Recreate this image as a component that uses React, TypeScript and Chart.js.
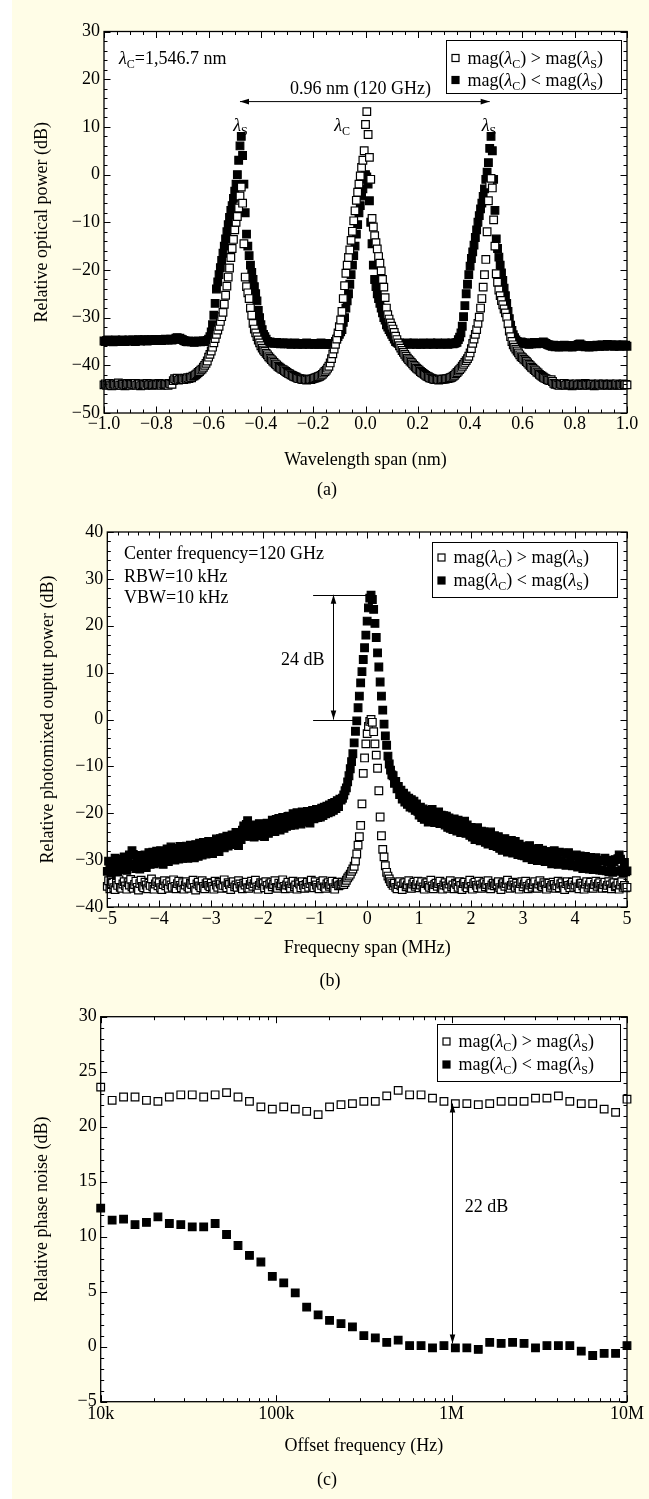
import React, { useEffect, useRef } from 'react';
import { Chart, registerables } from 'chart.js';

Chart.register(...registerables);

const FONT = "'Liberation Serif', 'Times New Roman', Times, serif";
const FS = 18;
const PAGE_BG = '#FFFDE7';

// ---------------- (a) optical spectrum ----------------
const A_WAVELENGTH_START_NM = -1.0;
const A_WAVELENGTH_STEP_NM = 0.005;
const A_OPEN_DB = [
  -44.1,-43.9,-44.2,-44.0,-43.8,-44.1,-44.3,-44.0,-43.9,-44.2,-44.0,-43.7,-44.1,-44.2,-43.9,-44.0,-44.3,-44.1,-43.8,-44.0,
  -44.2,-43.9,-44.0,-44.1,-43.8,-44.2,-44.0,-43.9,-44.3,-44.1,-43.9,-44.0,-44.2,-43.8,-44.1,-44.0,-43.9,-44.2,-44.1,-43.9,
  -44.0,-44.1,-43.8,-44.0,-44.2,-43.9,-44.1,-43.9,-44.0,-44.2,-43.8,-43.9,-44.0,-43.2,-42.8,-43.0,-42.7,-43.1,-42.9,-43.0,
  -42.8,-43.0,-42.7,-42.9,-42.6,-42.8,-42.5,-42.6,-42.3,-42.2,-42.0,-41.8,-41.5,-41.3,-41.0,-40.8,-40.4,-40.0,-39.6,-39.1,
  -38.3,-37.7,-37.0,-36.2,-35.3,-34.4,-33.5,-32.6,-31.8,-30.8,-29.8,-28.9,-27.2,-25.3,-23.4,-21.5,-19.6,-17.4,-15.5,-13.6,
  -11.6,-10.0,-8.8,-7.0,-4.5,-2.6,-6.0,-14.5,-21.5,-23.5,-24.8,-26.0,-28.0,-29.5,-31.2,-32.4,-33.2,-34.0,-34.7,-35.3,
  -35.9,-36.4,-36.8,-37.1,-37.5,-37.8,-38.2,-38.5,-38.8,-39.1,-39.4,-39.7,-39.9,-40.2,-40.4,-40.6,-40.8,-40.9,-41.1,-41.3,
  -41.5,-41.7,-41.8,-42.0,-42.1,-42.3,-42.4,-42.5,-42.7,-42.8,-42.8,-42.9,-43.0,-43.0,-42.9,-43.1,-43.0,-42.9,-43.0,-42.9,
  -42.8,-42.7,-42.6,-42.5,-42.4,-42.3,-42.1,-41.9,-41.6,-41.3,-41.0,-40.6,-40.2,-39.5,-38.6,-37.6,-36.6,-35.6,-34.5,-33.2,
  -31.9,-30.5,-28.7,-26.0,-23.3,-20.7,-19.0,-17.4,-15.8,-13.8,-11.9,-9.7,-7.6,-5.4,-3.7,-2.0,-0.3,1.5,3.0,5.0,
  10.5,13.2,8.4,3.6,-1.0,-9.2,-11.0,-12.8,-14.3,-15.6,-17.2,-18.6,-20.2,-22.0,-23.6,-25.8,-28.0,-29.4,-30.3,-31.1,
  -31.8,-32.4,-33.1,-33.9,-34.6,-35.3,-35.9,-36.4,-36.9,-37.3,-37.7,-38.1,-38.5,-38.8,-39.1,-39.4,-39.7,-40.0,-40.3,-40.6,
  -40.8,-41.0,-41.3,-41.5,-41.7,-41.9,-42.1,-42.3,-42.4,-42.6,-42.7,-42.8,-42.9,-43.0,-43.0,-42.9,-43.1,-43.0,-43.0,-42.9,
  -42.9,-42.9,-42.8,-42.8,-42.7,-42.6,-42.5,-42.3,-42.1,-41.8,-41.5,-41.2,-40.9,-40.6,-40.2,-39.8,-39.4,-39.0,-38.6,-38.1,
  -37.4,-36.5,-35.4,-34.5,-33.5,-32.5,-31.2,-29.9,-28.0,-26.0,-23.6,-21.0,-17.8,-12.0,-5.5,-2.2,-0.8,-2.8,-9.5,-15.0,
  -20.8,-22.6,-24.2,-25.4,-26.4,-27.3,-28.2,-29.0,-29.9,-31.3,-32.8,-34.0,-35.0,-35.7,-36.2,-36.6,-37.0,-37.4,-37.8,-38.2,
  -38.4,-38.7,-38.9,-39.2,-39.5,-39.8,-40.1,-40.4,-40.6,-40.9,-41.1,-41.4,-41.6,-41.9,-42.1,-42.3,-42.5,-42.7,-42.8,-43.0,
  -43.1,-43.2,-43.0,-43.4,-43.8,-44.0,-43.9,-44.1,-44.2,-43.9,-44.0,-44.1,-43.8,-44.2,-44.0,-44.1,-43.9,-44.0,-44.3,-44.1,
  -44.0,-43.9,-44.2,-44.1,-43.9,-44.0,-44.2,-44.1,-43.8,-44.0,-44.2,-44.0,-44.1,-43.9,-44.0,-44.3,-44.1,-44.0,-43.9,-44.1,
  -44.2,-44.0,-43.9,-44.1,-44.0,-44.2,-44.1,-43.9,-44.0,-44.2,-44.1,-44.0,-43.9,-44.2,-44.1,-44.0,-44.2,-43.9,-44.1,-44.0,
  -44.1,
];
const A_FILLED_DB = [
  -34.9,-35.0,-34.8,-34.7,-35.0,-34.9,-34.8,-35.1,-34.9,-34.7,-34.8,-35.0,-34.9,-34.8,-34.7,-34.9,-35.0,-34.8,-34.9,-34.7,
  -34.8,-34.9,-34.7,-34.8,-35.0,-34.8,-34.6,-34.8,-34.9,-34.7,-34.8,-34.6,-34.8,-34.9,-34.7,-34.8,-34.6,-34.7,-34.8,-34.6,
  -34.7,-34.8,-34.6,-34.7,-34.8,-34.6,-34.7,-34.5,-34.6,-34.7,-34.6,-34.5,-34.7,-34.6,-34.5,-34.3,-34.2,-34.4,-34.3,-34.5,
  -34.6,-34.8,-34.9,-35.0,-35.1,-34.9,-35.0,-35.1,-35.0,-35.2,-35.0,-35.1,-34.9,-35.0,-35.1,-35.0,-34.9,-35.0,-34.9,-34.8,
  -34.5,-34.0,-33.0,-31.5,-29.5,-27.0,-24.0,-22.5,-21.0,-19.5,-18.0,-16.5,-15.0,-13.5,-12.0,-10.5,-9.0,-7.5,-6.5,-5.0,
  -3.5,-2.0,0.0,3.0,6.0,8.0,4.0,-2.0,-8.0,-12.5,-15.0,-17.0,-19.0,-20.5,-22.0,-23.5,-25.0,-26.5,-28.5,-30.0,
  -31.5,-32.5,-33.5,-34.0,-34.5,-35.0,-35.2,-35.1,-35.3,-35.2,-35.4,-35.3,-35.2,-35.4,-35.3,-35.5,-35.4,-35.3,-35.5,-35.4,
  -35.3,-35.5,-35.4,-35.6,-35.4,-35.5,-35.3,-35.4,-35.6,-35.5,-35.4,-35.5,-35.6,-35.4,-35.5,-35.3,-35.5,-35.6,-35.4,-35.5,
  -35.4,-35.6,-35.5,-35.4,-35.6,-35.5,-35.3,-35.5,-35.6,-35.4,-35.5,-35.6,-35.5,-35.4,-35.6,-35.5,-35.5,-35.0,-34.5,-34.0,
  -33.5,-33.0,-32.5,-31.0,-30.0,-28.0,-26.5,-25.0,-23.0,-21.0,-19.0,-17.0,-15.0,-12.5,-10.5,-8.0,-6.5,-4.5,-3.0,-1.0,
  0.0,-0.5,-2.0,-5.5,-10.0,-14.5,-19.0,-22.0,-23.5,-25.0,-26.0,-27.0,-28.0,-29.0,-30.0,-30.5,-31.5,-32.0,-32.5,-33.0,
  -33.5,-34.0,-34.5,-35.0,-35.2,-35.4,-35.3,-35.5,-35.4,-35.6,-35.5,-35.4,-35.3,-35.5,-35.6,-35.4,-35.5,-35.3,-35.4,-35.6,
  -35.5,-35.4,-35.6,-35.5,-35.3,-35.5,-35.4,-35.6,-35.5,-35.4,-35.3,-35.5,-35.6,-35.4,-35.5,-35.3,-35.4,-35.6,-35.5,-35.4,
  -35.5,-35.3,-35.4,-35.6,-35.5,-35.4,-35.3,-35.5,-35.4,-35.3,-35.2,-34.6,-34.1,-33.2,-31.8,-29.8,-27.5,-25.0,-23.0,-21.0,
  -19.2,-17.6,-16.2,-14.8,-13.2,-11.6,-10.0,-8.6,-7.2,-6.0,-4.6,-3.0,-1.0,0.5,2.5,5.5,8.0,5.0,-1.0,-7.5,
  -13.5,-15.5,-17.3,-19.0,-20.6,-22.2,-23.8,-25.4,-27.0,-28.7,-30.2,-31.6,-32.7,-33.6,-34.2,-34.7,-35.0,-35.2,-35.3,-35.1,
  -35.2,-35.4,-35.3,-35.5,-35.4,-35.6,-35.3,-35.5,-35.4,-35.2,-35.4,-35.5,-35.3,-35.4,-35.2,-35.3,-35.1,-35.3,-35.4,-35.6,
  -35.7,-35.8,-35.9,-36.0,-35.8,-36.1,-35.9,-36.0,-36.2,-35.9,-36.0,-36.1,-35.8,-36.0,-35.9,-36.1,-36.0,-35.9,-36.2,-36.0,
  -35.9,-36.0,-35.8,-35.6,-35.5,-35.7,-35.9,-36.0,-36.1,-35.9,-36.0,-36.2,-35.9,-36.0,-36.1,-35.9,-36.0,-35.8,-35.9,-36.0,
  -35.8,-35.7,-35.9,-36.0,-35.8,-35.6,-35.8,-35.9,-35.7,-35.8,-36.0,-35.9,-35.7,-35.8,-36.0,-35.9,-35.8,-35.7,-35.9,-35.8,
  -36.0,
];

// ---------------- (b) photomixed RF spectrum ----------------
const B_FREQ_START_MHZ = -5.0;
const B_FREQ_STEP_MHZ = 0.025;
const B_OPEN_DB = [
  -35.6,-34.4,-36.1,-35.0,-34.7,-35.9,-36.3,-34.9,-35.4,-34.2,-35.8,-36.0,-35.1,-34.6,-35.5,-36.2,-34.8,-35.3,-34.1,-35.7,
  -36.0,-35.2,-34.5,-35.8,-36.4,-35.0,-34.3,-35.6,-35.9,-34.7,-35.3,-36.1,-34.9,-35.4,-34.0,-35.7,-36.2,-35.1,-34.6,-35.5,
  -34.8,-35.9,-36.3,-35.2,-34.4,-35.5,-35.0,-36.0,-34.6,-35.3,-35.8,-34.2,-35.6,-36.1,-35.0,-34.5,-35.4,-35.9,-34.8,-36.2,
  -35.3,-34.6,-35.7,-36.0,-34.9,-35.2,-34.3,-35.8,-36.4,-35.1,-34.7,-35.5,-35.9,-34.4,-35.6,-36.1,-35.0,-34.8,-35.4,-35.7,
  -34.9,-35.6,-36.2,-34.5,-35.3,-35.8,-34.7,-35.1,-36.0,-35.4,-34.2,-35.5,-35.9,-34.8,-35.2,-36.3,-35.0,-34.6,-35.7,-35.3,
  -35.8,-34.4,-35.1,-35.6,-36.1,-34.9,-35.3,-34.7,-35.9,-36.0,-35.2,-34.5,-35.6,-35.0,-34.3,-35.7,-36.2,-35.4,-34.8,-35.1,
  -35.0,-35.9,-34.6,-35.4,-36.3,-35.1,-34.8,-35.7,-35.2,-34.4,-35.8,-36.0,-34.9,-35.5,-35.1,-34.2,-35.6,-36.1,-35.3,-34.7,
  -35.5,-36.0,-35.0,-34.5,-35.7,-35.3,-36.2,-34.8,-35.1,-35.9,-34.6,-35.4,-36.0,-35.2,-34.7,-35.8,-35.0,-34.3,-35.6,-35.9,
  -34.6,-35.3,-35.8,-36.1,-34.9,-35.4,-34.4,-35.7,-36.0,-35.1,-34.8,-35.6,-35.2,-34.5,-35.9,-36.2,-35.0,-34.7,-35.5,-35.3,
  -35.1,-34.7,-35.2,-34.8,-34.3,-33.8,-33.4,-33.0,-32.4,-31.9,-31.3,-30.2,-28.7,-26.8,-25.0,-22.6,-18.0,-11.5,-8.2,-5.2,
  -3.0,-1.5,-0.4,0.0,-0.6,-2.6,-5.2,-7.6,-10.4,-15.2,-20.8,-24.8,-27.7,-29.3,-31.2,-32.6,-33.4,-34.0,-34.6,-35.0,
  -35.4,-34.9,-35.8,-36.1,-35.2,-34.6,-35.5,-36.3,-35.0,-34.8,-35.7,-35.3,-34.4,-35.9,-36.0,-35.1,-34.7,-35.6,-35.2,-34.5,
  -35.9,-35.3,-34.6,-35.7,-36.2,-35.0,-34.8,-35.4,-35.8,-34.3,-35.5,-36.1,-35.2,-34.9,-35.6,-35.0,-34.5,-35.8,-36.2,-35.3,
  -34.8,-35.5,-36.0,-35.1,-34.4,-35.7,-35.3,-36.1,-34.9,-35.2,-35.8,-34.6,-35.4,-36.3,-35.0,-34.7,-35.6,-35.9,-35.1,-34.3,
  -35.6,-36.2,-35.0,-34.7,-35.4,-35.9,-34.5,-35.3,-36.0,-35.1,-34.8,-35.7,-35.2,-34.4,-35.8,-36.1,-35.3,-34.9,-35.5,-35.0,
  -35.2,-34.6,-35.9,-36.3,-35.1,-34.8,-35.6,-35.0,-34.3,-35.7,-36.0,-35.4,-34.7,-35.3,-35.8,-34.9,-35.5,-36.2,-35.0,-34.6,
  -35.7,-35.1,-34.5,-35.6,-36.1,-35.3,-34.9,-35.8,-35.2,-34.6,-35.9,-36.0,-35.1,-34.4,-35.5,-35.7,-34.8,-35.3,-36.2,-35.0,
  -34.9,-35.8,-35.4,-34.7,-35.2,-36.0,-35.5,-34.5,-35.9,-35.1,-34.8,-35.6,-36.3,-35.0,-34.6,-35.4,-35.9,-35.2,-34.7,-35.8,
  -35.3,-34.4,-35.7,-36.1,-35.0,-34.9,-35.5,-36.2,-35.1,-34.6,-35.8,-35.3,-34.7,-35.9,-36.0,-35.2,-34.5,-35.6,-35.1,-34.8,
  -35.6,-36.0,-35.2,-34.7,-35.9,-35.4,-34.6,-35.3,-36.1,-35.0,-34.8,-35.7,-35.5,-34.9,-36.2,-35.3,-34.6,-35.8,-35.4,-35.9,
  -35.8,
];
const B_FILLED_DB = [
  -32.4,-30.2,-31.6,-33.0,-30.4,-31.9,-29.6,-31.3,-32.6,-30.5,-29.8,-32.0,-30.9,-29.3,-31.5,-32.2,-29.9,-28.9,-30.8,-28.0,
  -28.8,-31.4,-31.8,-30.2,-29.0,-31.9,-30.7,-29.2,-30.9,-28.9,-31.6,-29.7,-28.4,-30.9,-29.3,-28.3,-30.8,-30.1,-28.1,-29.6,
  -30.6,-28.0,-29.9,-30.9,-28.3,-29.6,-27.6,-30.3,-28.6,-27.2,-29.7,-28.2,-30.0,-27.5,-28.9,-29.8,-27.1,-28.5,-29.6,-27.3,
  -29.3,-27.0,-29.6,-28.4,-26.8,-28.9,-27.6,-29.5,-26.7,-27.9,-29.2,-26.4,-27.5,-28.9,-26.2,-27.6,-28.7,-26.8,-26.0,-28.2,
  -26.5,-28.6,-26.0,-27.9,-25.5,-27.1,-28.2,-25.4,-26.7,-25.2,-27.4,-26.2,-24.9,-27.0,-25.5,-26.7,-24.6,-26.4,-25.2,-24.1,
  -26.0,-26.9,-24.3,-25.6,-23.6,-22.7,-24.9,-22.4,-21.6,-23.9,-24.9,-22.5,-24.3,-25.1,-22.7,-24.6,-23.2,-22.2,-24.8,-23.0,
  -24.2,-25.0,-22.6,-22.1,-24.3,-22.5,-23.9,-21.5,-22.6,-23.9,-21.3,-22.9,-21.1,-23.6,-22.1,-20.9,-23.2,-21.5,-22.8,-20.7,
  -20.6,-22.6,-21.9,-20.1,-22.5,-21.0,-19.9,-21.9,-20.5,-22.3,-19.7,-21.3,-20.3,-21.9,-19.6,-20.6,-22.1,-20.0,-19.4,-21.2,
  -21.0,-19.2,-20.9,-19.3,-20.8,-18.9,-20.5,-18.7,-20.1,-18.5,-19.9,-18.2,-19.7,-17.9,-19.4,-17.7,-19.0,-17.3,-18.6,-17.0,
  -17.2,-16.8,-16.1,-15.2,-14.6,-13.3,-12.0,-10.5,-9.0,-7.3,-5.0,-2.5,-0.3,2.5,5.0,7.8,10.2,12.8,15.3,18.0,
  21.0,23.8,25.9,26.5,25.6,23.5,20.5,17.5,14.2,11.2,8.0,5.0,2.0,-1.0,-3.5,-5.5,-7.8,-9.5,-10.8,-11.8,
  -12.0,-13.6,-13.2,-14.8,-14.3,-16.0,-15.1,-17.0,-15.7,-17.6,-16.3,-18.1,-16.8,-18.7,-17.1,-18.9,-17.4,-19.4,-18.0,-19.6,
  -20.4,-18.7,-20.9,-19.1,-21.3,-19.4,-20.9,-21.9,-19.6,-21.4,-19.2,-21.0,-22.0,-20.1,-21.6,-19.7,-22.2,-20.4,-22.0,-20.5,
  -22.5,-20.6,-23.0,-21.0,-23.2,-21.4,-23.5,-21.2,-22.9,-23.8,-21.5,-23.2,-24.1,-22.1,-23.6,-21.7,-24.3,-22.5,-23.9,-24.7,
  -23.0,-25.1,-23.3,-25.6,-24.7,-23.1,-25.3,-25.9,-23.8,-25.7,-24.0,-26.2,-24.3,-26.6,-25.7,-24.0,-26.4,-26.9,-24.8,-26.6,
  -27.1,-25.0,-27.5,-25.6,-27.9,-26.0,-25.4,-27.7,-28.3,-26.1,-28.0,-25.8,-28.5,-26.6,-26.0,-28.2,-28.8,-26.6,-28.4,-29.0,
  -27.0,-29.1,-27.3,-29.5,-28.9,-26.9,-29.3,-29.9,-27.7,-29.6,-27.9,-30.1,-27.5,-29.4,-30.0,-27.9,-29.7,-30.3,-28.2,-29.9,
  -28.2,-30.2,-30.8,-28.7,-28.0,-30.5,-28.8,-30.9,-28.3,-30.3,-30.7,-28.5,-30.6,-31.1,-28.9,-28.4,-30.9,-29.1,-31.2,-29.2,
  -31.0,-28.9,-31.5,-29.5,-29.1,-31.3,-31.8,-29.5,-29.2,-31.4,-29.7,-31.9,-29.4,-31.3,-32.0,-29.8,-29.5,-31.7,-30.0,-32.1,
  -30.1,-32.2,-30.2,-29.6,-32.3,-30.3,-32.5,-30.0,-32.0,-32.6,-30.4,-29.9,-32.4,-29.7,-28.9,-29.8,-32.1,-32.7,-30.5,-32.5,
  -32.3,
];

// ---------------- (c) relative phase noise ----------------
const C_OFFSET_HZ = [
  10000, 11620, 13500, 15690, 18230, 21190, 24620, 28610, 33250, 38640, 44900, 52170, 60620, 70450, 81870, 95120,
  110500, 128500, 149300, 173500, 201600, 234300, 272200, 316200, 367500, 427000, 496200, 576600, 670000, 778600, 904800,
  1051000, 1222000, 1420000, 1650000, 1917000, 2228000, 2589000, 3009000, 3496000, 4063000, 4721000, 5486000, 6375000,
  7408000, 8609000, 10000000,
];
const C_OPEN_DB = [
  23.6,22.4,22.7,22.7,22.4,22.3,22.7,22.9,22.9,22.7,22.9,23.1,22.7,22.3,21.8,21.6,
  21.8,21.6,21.4,21.1,21.8,22.0,22.1,22.3,22.3,22.8,23.3,22.9,22.9,22.6,22.3,
  22.1,22.1,22.0,22.1,22.3,22.3,22.3,22.6,22.6,22.8,22.3,22.1,22.1,21.6,21.3,22.5,
];
const C_FILLED_DB = [
  12.6,11.5,11.6,11.1,11.3,11.8,11.2,11.1,10.9,10.9,11.2,10.2,9.2,8.3,7.7,6.4,
  5.8,4.9,3.6,2.9,2.4,2.1,1.8,1.0,0.8,0.4,0.6,0.1,0.1,-0.1,0.1,
  -0.1,-0.1,-0.25,0.4,0.3,0.4,0.3,-0.1,0.1,0.1,0.1,-0.4,-0.8,-0.6,-0.6,0.1,
];
const C_X_TICK_VALUES = [1e4, 1e5, 1e6, 1e7];
const C_X_TICK_LABELS = ['10k', '100k', '1M', '10M'];

// ---------------- texts ----------------
type Seg = { t: string; it?: boolean; sub?: boolean };
const LEGEND_LABELS: Seg[][] = [
  [{ t: 'mag(' }, { t: 'λ', it: true }, { t: 'C', sub: true }, { t: ') > mag(' }, { t: 'λ', it: true }, { t: 'S', sub: true }, { t: ')' }],
  [{ t: 'mag(' }, { t: 'λ', it: true }, { t: 'C', sub: true }, { t: ') < mag(' }, { t: 'λ', it: true }, { t: 'S', sub: true }, { t: ')' }],
];
const LAMBDA_S: Seg[] = [{ t: 'λ', it: true }, { t: 'S', sub: true }];
const LAMBDA_C: Seg[] = [{ t: 'λ', it: true }, { t: 'C', sub: true }];
const A_NOTE_CENTER: Seg[] = [{ t: 'λ', it: true }, { t: 'C', sub: true }, { t: '=1,546.7 nm' }];
const A_NOTE_SPAN = '0.96 nm (120 GHz)';
const B_NOTES = ['Center frequency=120 GHz', 'RBW=10 kHz', 'VBW=10 kHz'];
const B_NOTE_DELTA = '24 dB';
const C_NOTE_DELTA = '22 dB';

// ---------------- drawing helpers ----------------
function segFont(s: Seg) {
  return `${s.it ? 'italic ' : ''}${s.sub ? 12 : FS}px ${FONT}`;
}
function drawRich(ctx: CanvasRenderingContext2D, segs: Seg[], x: number, cy: number, align: string) {
  ctx.save();
  ctx.fillStyle = '#000';
  ctx.textAlign = 'left';
  ctx.textBaseline = 'alphabetic';
  let total = 0;
  for (const s of segs) { ctx.font = segFont(s); total += ctx.measureText(s.t).width; }
  let cx = align === 'left' ? x : align === 'center' ? x - total / 2 : x - total;
  const base = cy + FS * 0.33;
  for (const s of segs) {
    ctx.font = segFont(s);
    ctx.fillText(s.t, cx, s.sub ? base + 4 : base);
    cx += ctx.measureText(s.t).width;
  }
  ctx.restore();
}
function arrowHead(ctx: CanvasRenderingContext2D, tx: number, ty: number, fx: number, fy: number) {
  const ang = Math.atan2(ty - fy, tx - fx);
  const L = 9, W = 2.8;
  const c = Math.cos(ang), s = Math.sin(ang);
  ctx.beginPath();
  ctx.moveTo(tx, ty);
  ctx.lineTo(tx - L * c + W * s, ty - L * s - W * c);
  ctx.lineTo(tx - L * c - W * s, ty - L * s + W * c);
  ctx.closePath();
  ctx.fill();
}
function doubleArrow(ctx: CanvasRenderingContext2D, x1: number, y1: number, x2: number, y2: number) {
  ctx.save();
  ctx.strokeStyle = '#000';
  ctx.fillStyle = '#000';
  ctx.lineWidth = 1;
  ctx.beginPath();
  ctx.moveTo(x1, y1);
  ctx.lineTo(x2, y2);
  ctx.stroke();
  arrowHead(ctx, x1, y1, x2, y2);
  arrowHead(ctx, x2, y2, x1, y1);
  ctx.restore();
}
function line(ctx: CanvasRenderingContext2D, x1: number, y1: number, x2: number, y2: number) {
  ctx.save();
  ctx.strokeStyle = '#000';
  ctx.lineWidth = 1;
  ctx.beginPath();
  ctx.moveTo(x1, y1);
  ctx.lineTo(x2, y2);
  ctx.stroke();
  ctx.restore();
}
function fmtNum(v: number, digits: number) {
  const r = Math.abs(v) < 1e-9 ? 0 : v;
  return r.toFixed(digits).replace('-', '\u2212');
}
function stepValues(min: number, max: number, step: number) {
  const out: number[] = [];
  const n = Math.round((max - min) / step);
  for (let i = 0; i <= n; i++) out.push(min + i * step);
  return out;
}
function logMinorValues(decades: number[]) {
  const out: number[] = [];
  for (const d of decades) for (let m = 2; m <= 9; m++) out.push(m * d);
  return out;
}

type LegendGeom = { right: number; top: number; w: number; h: number; rows: number[] };
type Panel = {
  open: { x: number; y: number }[];
  filled: { x: number; y: number }[];
  x: any;
  y: any;
  xMinor: number[];
  yMinor: number[];
  xTitle: string;
  yTitle: string;
  caption: string;
  padding: { left: number; right: number; top: number; bottom: number };
  yW: number;
  xH: number;
  xTickPad: number;
  captionPad: number;
  legend: LegendGeom;
  notes: (ctx: CanvasRenderingContext2D, px: (v: number) => number, py: (v: number) => number) => void;
};

function paperPlugin(p: Panel) {
  return {
    id: 'paper',
    beforeDraw(chart: any) {
      const { ctx, chartArea: a } = chart;
      ctx.save();
      ctx.fillStyle = '#fff';
      ctx.fillRect(a.left, a.top, a.right - a.left, a.bottom - a.top);
      ctx.restore();
    },
    afterDraw(chart: any) {
      const { ctx, chartArea: a } = chart;
      const xs = chart.scales.x, ys = chart.scales.y;
      const px = (v: number) => xs.getPixelForValue(v);
      const py = (v: number) => ys.getPixelForValue(v);
      ctx.save();
      ctx.strokeStyle = '#000';
      ctx.lineWidth = 1;
      ctx.beginPath();
      const tickX = (v: number, len: number) => {
        const x = Math.round(px(v)) + 0.5;
        ctx.moveTo(x, a.bottom); ctx.lineTo(x, a.bottom - len);
        ctx.moveTo(x, a.top); ctx.lineTo(x, a.top + len);
      };
      const tickY = (v: number, len: number) => {
        const y = Math.round(py(v)) + 0.5;
        ctx.moveTo(a.left, y); ctx.lineTo(a.left + len, y);
        ctx.moveTo(a.right, y); ctx.lineTo(a.right - len, y);
      };
      p.xMinor.forEach((v) => tickX(v, 3.5));
      p.yMinor.forEach((v) => tickY(v, 3.5));
      xs.ticks.forEach((t: any) => tickX(t.value, 6.5));
      ys.ticks.forEach((t: any) => tickY(t.value, 6.5));
      ctx.stroke();
      ctx.lineWidth = 1.3;
      ctx.strokeRect(a.left, a.top, a.right - a.left, a.bottom - a.top);
      ctx.restore();

      p.notes(ctx, px, py);

      // legend box
      const g = p.legend;
      const left = Math.round(a.right - g.right - g.w) + 0.5;
      const top = Math.round(a.top + g.top) + 0.5;
      ctx.save();
      ctx.fillStyle = '#fff';
      ctx.fillRect(left, top, g.w, g.h);
      ctx.strokeStyle = '#000';
      ctx.lineWidth = 1;
      ctx.strokeRect(left, top, g.w, g.h);
      for (let i = 0; i < 2; i++) {
        const cy = top + g.rows[i];
        const mx = left + 9;
        ctx.fillStyle = i === 0 ? '#fff' : '#000';
        ctx.fillRect(mx - 3.5, cy - 3.5, 7, 7);
        ctx.strokeStyle = '#000';
        ctx.lineWidth = 1.2;
        ctx.strokeRect(mx - 3.5, cy - 3.5, 7, 7);
        drawRich(ctx, LEGEND_LABELS[i], left + 21, cy, 'left');
      }
      ctx.restore();
    },
  };
}

function buildConfig(p: Panel) {
  const font = { family: FONT, size: FS, weight: 'normal' as const };
  const ds = (data: any[], filled: boolean, label: string) => ({
    label,
    data,
    showLine: false,
    pointStyle: 'rect',
    pointRadius: 5.4,
    pointHoverRadius: 5.4,
    pointBorderWidth: 1.2,
    pointBackgroundColor: filled ? '#000' : '#fff',
    pointBorderColor: '#000',
    clip: false,
  });
  return {
    type: 'scatter',
    data: {
      datasets: [
        ds(p.open, false, 'mag(λC) > mag(λS)'),
        ds(p.filled, true, 'mag(λC) < mag(λS)'),
      ],
    },
    options: {
      responsive: false,
      animation: false,
      devicePixelRatio: 1,
      events: [],
      layout: { padding: p.padding },
      scales: {
        x: {
          ...p.x,
          position: 'bottom',
          grid: { display: false, drawTicks: false },
          border: { display: false },
          ticks: { ...p.x.ticks, autoSkip: false, maxRotation: 0, padding: p.xTickPad, font, color: '#000' },
          title: { display: true, text: p.xTitle, font, color: '#000', padding: { top: 4, bottom: 4 } },
          afterFit: (s: any) => { s.height = p.xH; },
        },
        y: {
          ...p.y,
          position: 'left',
          grid: { display: false, drawTicks: false },
          border: { display: false },
          ticks: { ...p.y.ticks, padding: 4, font, color: '#000' },
          title: { display: true, text: p.yTitle, font, color: '#000', padding: { top: 4, bottom: 4 } },
          afterFit: (s: any) => { s.width = p.yW; },
        },
      },
      plugins: {
        legend: { display: false },
        tooltip: { enabled: false },
        title: { display: true, position: 'bottom', text: p.caption, font, color: '#000', padding: { top: p.captionPad, bottom: 0 } },
      },
    },
    plugins: [paperPlugin(p)],
  };
}

const panelA = (): Panel => ({
  open: A_OPEN_DB.map((y, i) => ({ x: A_WAVELENGTH_START_NM + i * A_WAVELENGTH_STEP_NM, y })),
  filled: A_FILLED_DB.map((y, i) => ({ x: A_WAVELENGTH_START_NM + i * A_WAVELENGTH_STEP_NM, y })),
  x: { type: 'linear', min: -1, max: 1, ticks: { stepSize: 0.2, callback: (v: number) => fmtNum(v, 1) } },
  y: { type: 'linear', min: -50, max: 30, ticks: { stepSize: 10, callback: (v: number) => fmtNum(v, 0) } },
  xMinor: stepValues(-1, 1, 0.05),
  yMinor: stepValues(-50, 30, 2),
  xTitle: 'Wavelength span (nm)',
  yTitle: 'Relative optical power (dB)',
  caption: '(a)',
  padding: { left: 27.2, right: 22, top: 31.5, bottom: 4.2 },
  yW: 76.8,
  xH: 61.8,
  xTickPad: 0,
  captionPad: 4.4,
  legend: { right: 6, top: 8.5, w: 175, h: 53, rows: [17.5, 39.5] },
  notes: (ctx, px, py) => {
    drawRich(ctx, A_NOTE_CENTER, px(-0.9425), py(24.4), 'left');
    drawRich(ctx, [{ t: A_NOTE_SPAN }], px(-0.019), py(18.1), 'center');
    doubleArrow(ctx, px(-0.48), py(15.3), px(0.475), py(15.3));
    drawRich(ctx, LAMBDA_S, px(-0.478), py(10.4), 'center');
    drawRich(ctx, LAMBDA_C, px(-0.089), py(10.4), 'center');
    drawRich(ctx, LAMBDA_S, px(0.472), py(10.4), 'center');
  },
});

const panelB = (): Panel => ({
  open: B_OPEN_DB.map((y, i) => ({ x: B_FREQ_START_MHZ + i * B_FREQ_STEP_MHZ, y })),
  filled: B_FILLED_DB.map((y, i) => ({ x: B_FREQ_START_MHZ + i * B_FREQ_STEP_MHZ, y })),
  x: { type: 'linear', min: -5, max: 5, ticks: { stepSize: 1, callback: (v: number) => fmtNum(v, 0) } },
  y: { type: 'linear', min: -40, max: 40, ticks: { stepSize: 10, callback: (v: number) => fmtNum(v, 0) } },
  xMinor: stepValues(-5, 5, 0.2),
  yMinor: stepValues(-40, 40, 2),
  xTitle: 'Frequecny span (MHz)',
  yTitle: 'Relative photomixed ouptut power (dB)',
  caption: '(b)',
  padding: { left: 33.2, right: 22, top: 27, bottom: 8.2 },
  yW: 74.1,
  xH: 55.8,
  xTickPad: 1,
  captionPad: 7.4,
  legend: { right: 10, top: 10, w: 185, h: 55, rows: [15, 38] },
  notes: (ctx, px, py) => {
    drawRich(ctx, [{ t: B_NOTES[0] }], px(-4.68), py(35.5), 'left');
    drawRich(ctx, [{ t: B_NOTES[1] }], px(-4.68), py(30.7), 'left');
    drawRich(ctx, [{ t: B_NOTES[2] }], px(-4.68), py(26.2), 'left');
    line(ctx, px(-1.04), Math.round(py(26.6)) + 0.5, px(0.0), Math.round(py(26.6)) + 0.5);
    line(ctx, px(-1.04), Math.round(py(0)) + 0.5, px(-0.2), Math.round(py(0)) + 0.5);
    doubleArrow(ctx, Math.round(px(-0.66)) + 0.5, py(26.6), Math.round(px(-0.66)) + 0.5, py(0));
    drawRich(ctx, [{ t: B_NOTE_DELTA }], px(-1.24), py(12.8), 'center');
  },
});

const panelC = (): Panel => ({
  open: C_OPEN_DB.map((y, i) => ({ x: C_OFFSET_HZ[i], y })),
  filled: C_FILLED_DB.map((y, i) => ({ x: C_OFFSET_HZ[i], y })),
  x: {
    type: 'logarithmic', min: 1e4, max: 1e7,
    afterBuildTicks: (s: any) => { s.ticks = C_X_TICK_VALUES.map((v) => ({ value: v })); },
    ticks: { callback: (v: number) => { const i = C_X_TICK_VALUES.findIndex((t) => Math.abs(t - v) / t < 1e-6); return i >= 0 ? C_X_TICK_LABELS[i] : ''; } },
  },
  y: { type: 'linear', min: -5, max: 30, ticks: { stepSize: 5, callback: (v: number) => fmtNum(v, 0) } },
  xMinor: logMinorValues([1e4, 1e5, 1e6]),
  yMinor: stepValues(-5, 30, 1),
  xTitle: 'Offset frequency (Hz)',
  yTitle: 'Relative phase noise (dB)',
  caption: '(c)',
  padding: { left: 27.2, right: 22, top: 16.7, bottom: 8.2 },
  yW: 73.5,
  xH: 59.8,
  xTickPad: 2,
  captionPad: 7.7,
  legend: { right: 7, top: 7.5, w: 183, h: 57, rows: [17, 40] },
  notes: (ctx, px, py) => {
    doubleArrow(ctx, Math.round(px(1e6)) + 0.5, py(22.1), Math.round(px(1e6)) + 0.5, py(0.3));
    drawRich(ctx, [{ t: C_NOTE_DELTA }], px(1.188e6), py(12.75), 'left');
  },
});

function ChartPanel({ top, height, make }: { top: number; height: number; make: () => Panel }) {
  const ref = useRef<HTMLCanvasElement>(null);
  useEffect(() => {
    const chart = new Chart(ref.current as HTMLCanvasElement, buildConfig(make()) as any);
    return () => chart.destroy();
  }, []);
  return (
    <canvas
      ref={ref}
      width={649}
      height={height}
      style={{ position: 'absolute', left: 0, top, width: 649, height, display: 'block' }}
    />
  );
}

export default function App() {
  Chart.defaults.font.family = FONT;
  Chart.defaults.color = '#000';
  return (
    <div style={{ position: 'absolute', left: 0, top: 0, width: 649, height: 1499, background: PAGE_BG, overflow: 'hidden' }}>
      <div style={{ position: 'absolute', left: 0, top: 0, width: 12, height: 1499, background: '#ffffff' }} />
      <ChartPanel top={0} height={505} make={panelA} />
      <ChartPanel top={505} height={495} make={panelB} />
      <ChartPanel top={1000} height={499} make={panelC} />
    </div>
  );
}
